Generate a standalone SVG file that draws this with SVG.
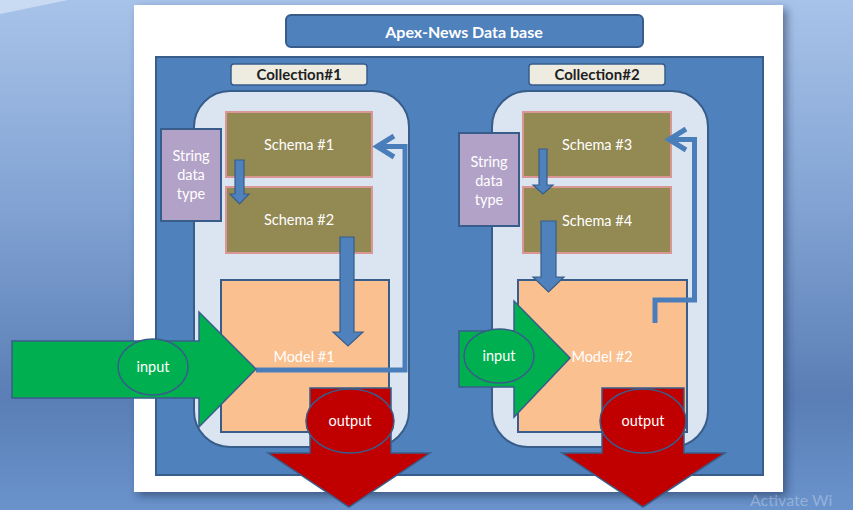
<svg xmlns="http://www.w3.org/2000/svg" width="853" height="510" viewBox="0 0 853 510">
<defs>
<linearGradient id="bg" x1="0" y1="0" x2="0" y2="1">
<stop offset="0" stop-color="#a8c3e9"/>
<stop offset="0.4" stop-color="#82a3d3"/>
<stop offset="0.78" stop-color="#5a7eb5"/>
<stop offset="1" stop-color="#6a93cc"/>
</linearGradient>
<filter id="sh" x="-5%" y="-5%" width="112%" height="112%">
<feDropShadow dx="4" dy="4" stdDeviation="4" flood-color="#1f3350" flood-opacity="0.55"/>
</filter>
<style>
.t{font-family:Lato,"Open Sans","Liberation Sans",sans-serif;}
.w{fill:#ffffff;font-size:14.5px;text-anchor:middle;}
.b{font-weight:bold;text-anchor:middle;}
.cont{fill:#dbe5f1;stroke:#385d8a;stroke-width:2;}
.schema{fill:#938953;stroke:#d99694;stroke-width:2;}
.sdt{fill:#b3a2c7;stroke:#385d8a;stroke-width:2;}
.model{fill:#fac090;stroke:#385d8a;stroke-width:2;}
.blk{fill:#4f81bd;stroke:#385d8a;stroke-width:1.2;}
.in{fill:#00b050;stroke:#385d8a;stroke-width:1.5;}
.out{fill:#c00000;stroke:#385d8a;stroke-width:1.5;}
.fb{fill:none;stroke:#4a7ebb;stroke-width:5;}
.lbl{fill:#eeece1;stroke:#385d8a;stroke-width:1.5;}
</style>
</defs>
<rect width="853" height="510" fill="url(#bg)"/>
<polygon points="0,0 68,0 0,14" fill="#c9dbf2"/>
<rect x="134" y="5" width="649" height="487" fill="#ffffff" filter="url(#sh)"/>
<g id="title">
<rect x="286" y="15" width="357" height="32" rx="5" fill="#4f81bd" stroke="#385d8a" stroke-width="2"/>
<text class="t b" x="464" y="37.5" font-size="16" fill="#ffffff">Apex-News Data base</text>
</g>
<g id="database">
<rect x="156" y="57" width="607" height="418" fill="#4f81bd" stroke="#385d8a" stroke-width="2"/>
</g>
<g id="collection1">
<rect class="lbl" x="231" y="64" width="136" height="21" rx="3"/>
<text class="t b" x="299" y="80" font-size="15" fill="#1f1f1f">Collection#1</text>
<rect class="cont" x="194" y="91" width="215" height="356" rx="36"/>
</g>
<g id="collection2">
<rect class="lbl" x="529" y="64" width="136" height="21" rx="3"/>
<text class="t b" x="597" y="80" font-size="15" fill="#1f1f1f">Collection#2</text>
<rect class="cont" x="492" y="91" width="216" height="356" rx="36"/>
</g>
<g id="schema1"><rect class="schema" x="226" y="112" width="146" height="65"/><text class="t w" x="299" y="150">Schema #1</text></g>
<g id="schema2"><rect class="schema" x="226" y="187" width="146" height="66"/><text class="t w" x="299" y="225">Schema #2</text></g>
<g id="schema3"><rect class="schema" x="523" y="112" width="148" height="65"/><text class="t w" x="597" y="150">Schema #3</text></g>
<g id="schema4"><rect class="schema" x="523" y="187" width="148" height="66"/><text class="t w" x="597" y="226">Schema #4</text></g>
<g id="string1"><rect class="sdt" x="161" y="129" width="60" height="92"/>
<text class="t w" x="191" y="161">String</text><text class="t w" x="191" y="180">data</text><text class="t w" x="191" y="199">type</text></g>
<g id="string2"><rect class="sdt" x="459" y="133" width="60" height="93"/>
<text class="t w" x="489" y="167">String</text><text class="t w" x="489" y="186">data</text><text class="t w" x="489" y="205">type</text></g>
<g id="model1"><rect class="model" x="221" y="280" width="168" height="152"/><text class="t w" x="304" y="362">Model #1</text></g>
<g id="model2"><rect class="model" x="518" y="280" width="169" height="152"/></g>
<g id="connectors">
<path class="blk" d="M235,160 H244 V194 H249 L239.5,204 L230,194 H235 Z"/>
<path class="blk" d="M539,149 H547 V185 H553 L543,194 L533,185 H539 Z"/>
<path class="blk" d="M340,237 H354 V332 H363 L348,346 L333,332 H340 Z"/>
<path class="blk" d="M541,221 H556 V277 H564 L548.5,292 L533,277 H541 Z"/>
<polyline class="fb" points="256,370 405,370 405,146.5 377,146.5"/>
<polyline class="fb" points="394,136 377,146.5 394,157"/>
<polyline class="fb" points="655,323 655,300 694.5,300 694.5,139.5 669,139.5"/>
<polyline class="fb" points="686,129 669,139.5 686,150"/>
</g>
<g id="input1">
<path class="in" d="M12,341 H199 V312 L256,369 L199,427 V398 H12 Z"/>
<ellipse class="in" cx="153" cy="367" rx="35" ry="28"/>
<text class="t w" x="153" y="372">input</text>
</g>
<g id="input2">
<path class="in" d="M459,331 H514 V301 L570,358 L514,417 V387 H459 Z"/>
<ellipse class="in" cx="499" cy="356" rx="35" ry="27"/>
<text class="t w" x="499" y="361">input</text>
</g>
<text class="t w" x="602" y="362">Model #2</text>
<g id="output1">
<path class="out" d="M310,388 H391 V453 H430 L349,507 L268,453 H310 Z"/>
<ellipse class="out" cx="350" cy="421" rx="44" ry="32"/>
<text class="t w" x="350" y="426">output</text>
</g>
<g id="output2">
<path class="out" d="M602,388 H684 V453 H725 L643,507 L562,453 H602 Z"/>
<ellipse class="out" cx="643" cy="421" rx="43" ry="32"/>
<text class="t w" x="643" y="426">output</text>
</g>
<text class="t" x="750" y="506" font-size="16" fill="#ffffff" fill-opacity="0.3">Activate Wi</text>
</svg>
